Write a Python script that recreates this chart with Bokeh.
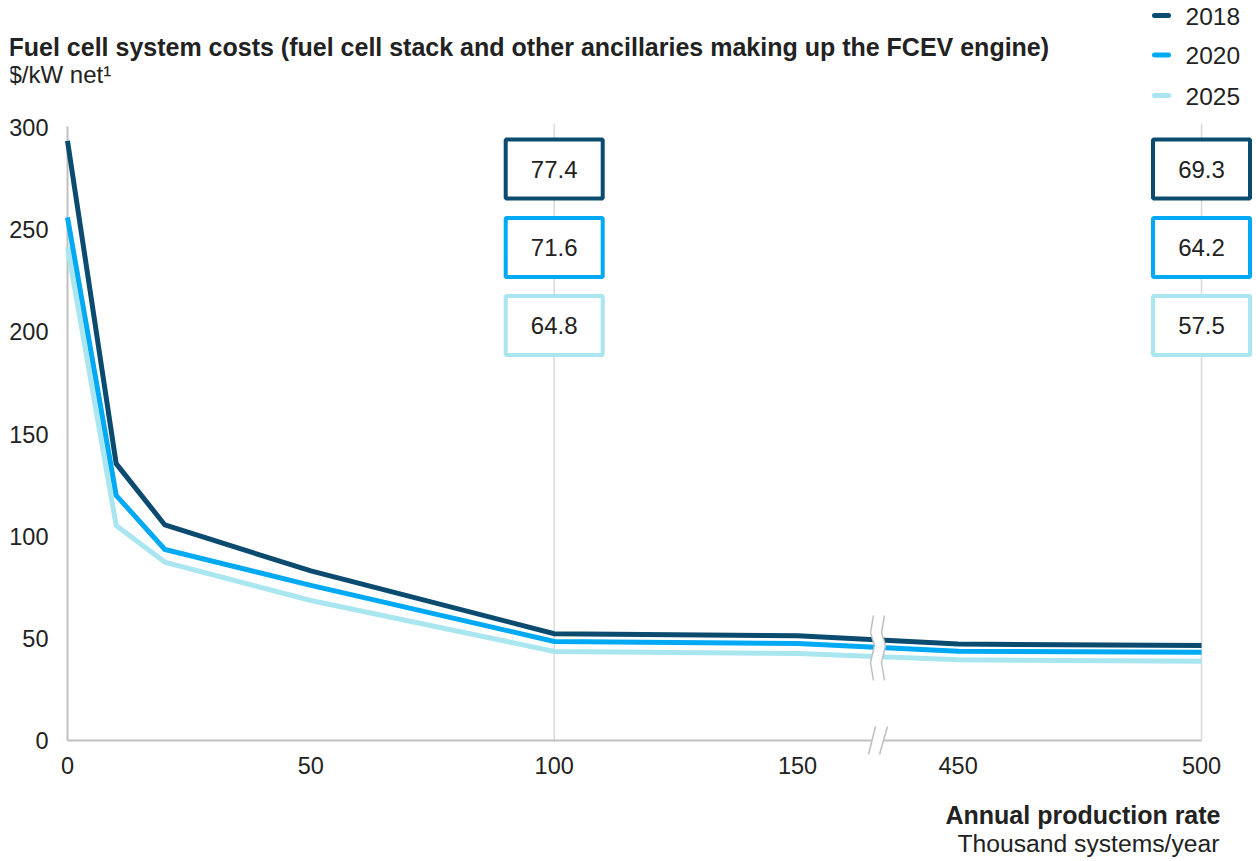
from bokeh.plotting import figure
from bokeh.models import (ColumnDataSource, FixedTicker, CustomJSTickFormatter, Range1d)
from bokeh.core.properties import value
from bokeh.embed import file_html
from bokeh.resources import INLINE

# ---------------- data ----------------
years = ["2018", "2020", "2025"]
production = [0, 10, 20, 50, 100, 150, 450, 500]          # thousand systems / year
cost_2018 = [293.5, 135.5, 105.5, 83.0, 52.3, 51.3, 47.2, 46.5]
cost_2020 = [256.0, 120.0, 93.5, 75.9, 48.5, 47.5, 43.7, 43.2]
cost_2025 = [241.5, 105.2, 87.3, 68.5, 43.6, 42.6, 39.5, 38.8]
callout_x = [100, 500]
callout_2018 = ["77.4", "69.3"]
callout_2020 = ["71.6", "64.2"]
callout_2025 = ["64.8", "57.5"]
x_ticks = [0, 50, 100, 150, 450, 500]
y_ticks = [0, 50, 100, 150, 200, 250, 300]

series = [cost_2018, cost_2020, cost_2025]
callouts = [callout_2018, callout_2020, callout_2025]
colors = ["#0b4b70", "#00a9f4", "#aae6f0"]

# ---------------- layout helpers ----------------
FONT = "Liberation Sans"
TXT = "#222222"
AX = "#c0c0c0"
PXX = 4.867      # px per x unit
PXY = 2.0433     # px per y unit
BREAK_LO, BREAK_HI, GAP_END = 150, 450, 183   # 450 is drawn at position 183


def xmap(v):
    return v if v <= BREAK_LO else v - BREAK_HI + GAP_END


def px_x(page_x):   # page pixel -> data x
    return (page_x - 67) / PXX


def px_y(page_y):   # page pixel -> data y
    return (740 - page_y) / PXY


W, H = 1256, 861
frame_left, frame_top, frame_bottom = 10, 0, 859
x0 = px_x(frame_left)
x1 = px_x(W)
y0 = px_y(frame_bottom)
y1 = px_y(frame_top)

p = figure(width=W, height=H, output_backend="svg", toolbar_location=None,
           x_range=Range1d(x0, x1), y_range=Range1d(y0, y1),
           min_border_left=frame_left, min_border_right=0,
           min_border_top=frame_top, min_border_bottom=H - frame_bottom)
p.outline_line_color = None
p.grid.visible = False
p.background_fill_color = "white"
p.border_fill_color = "white"

for ax in (p.xaxis[0], p.yaxis[0]):
    ax.axis_line_color = None
    ax.major_tick_line_color = None
    ax.minor_tick_line_color = None
    ax.major_tick_out = 0
    ax.major_tick_in = 0
    ax.major_label_text_font = FONT
    ax.major_label_text_font_size = "23.5px"
    ax.major_label_text_color = TXT

p.xaxis.ticker = FixedTicker(ticks=[xmap(v) for v in x_ticks])
p.xaxis.formatter = CustomJSTickFormatter(
    args=dict(lo=BREAK_LO, off=BREAK_HI - GAP_END),
    code="return (tick > lo ? tick + off : tick).toFixed(0);")
# tick labels are drawn back inside the plot area, where the reference has them
p.xaxis.major_label_standoff = -103
p.yaxis.ticker = FixedTicker(ticks=y_ticks)
p.yaxis.major_label_standoff = -38

xm = [xmap(v) for v in production]
brk = px_x(878)

# vertical reference lines at call-out positions
p.segment(x0=[xmap(v) for v in callout_x], y0=[0, 0],
          x1=[xmap(v) for v in callout_x], y1=[302, 302],
          line_color="#d9d9d9", line_width=1.5)

# axis lines (drawn so the break can interrupt them)
p.segment(x0=[0], y0=[0], x1=[0], y1=[300.5], line_color=AX, line_width=2)
p.segment(x0=[0, px_x(883)], y0=[0, 0], x1=[px_x(871.5), xmap(500)], y1=[0, 0],
          line_color=AX, line_width=2)
p.segment(x0=[px_x(868), px_x(879)], y0=[px_y(754), px_y(754)],
          x1=[px_x(875), px_x(887)], y1=[px_y(726), px_y(726)],
          line_color=AX, line_width=1.5)

# series lines
for ys, c in list(zip(series, colors))[::-1]:
    p.line(xm, ys, line_color=c, line_width=5, line_join="miter")

# break band over the lines
zz_y = [px_y(v) for v in (615, 632, 645, 662, 680)]
left_dx = [-5, -8, -4, -8, -5]
right_dx = [6, 3, 7, 3, 6]
lx = [brk + d / PXX for d in left_dx]
rx = [brk + d / PXX for d in right_dx]
p.patch(lx + rx[::-1], zz_y + zz_y[::-1], fill_color="white", line_color=None)
p.multi_line([lx, rx], [zz_y, zz_y], line_color=AX, line_width=1.5)

# call-out boxes
bx, by, bc, bt = [], [], [], []
box_y = [px_y(168.5), px_y(247), px_y(325)]
for vals, c, yy in zip(callouts, colors, box_y):
    for xv, t in zip(callout_x, vals):
        bx.append(xmap(xv)); by.append(yy); bc.append(c); bt.append(t)
src = ColumnDataSource(dict(x=bx, y=by, c=bc, t=bt))
p.rect(x="x", y="y", width=97, height=59, width_units="screen", height_units="screen",
       fill_color="white", line_color="c", line_width=4, source=src)
p.text(x="x", y="y", text="t", text_align="center", text_baseline="middle",
       text_font=value(FONT), text_font_size="24px", text_color=TXT, source=src)

# legend
leg_y = [px_y(15), px_y(54.5), px_y(95)]
p.segment(x0=[px_x(1154)] * 3, y0=leg_y, x1=[px_x(1168)] * 3, y1=leg_y,
          line_color=colors, line_width=5, line_cap="round")
p.text(x=[px_x(1185)] * 3, y=[v - 0.5 / PXY for v in leg_y], text=years,
       text_font=value(FONT), text_font_size="24.5px", text_color=TXT,
       text_baseline="middle", text_align="left")

SHIFT = 9   # baseline correction (px)


def put(txt, px, py, size, bold=False, align="left"):
    p.text(x=[px_x(px)], y=[px_y(py - SHIFT)], text=[txt], text_font=value(FONT),
           text_font_size=size, text_font_style="bold" if bold else "normal",
           text_color=TXT, text_baseline="alphabetic", text_align=align)


put("Fuel cell system costs (fuel cell stack and other ancillaries making up the FCEV engine)",
    8, 55, "25px", bold=True)
put("$/kW net\u00b9", 8, 83, "24px")
put("Annual production rate", 1220, 823, "25px", bold=True, align="right")
put("Thousand systems/year", 1219, 852, "24.7px", align="right")

open("out.html", "w").write(file_html(p, INLINE))
